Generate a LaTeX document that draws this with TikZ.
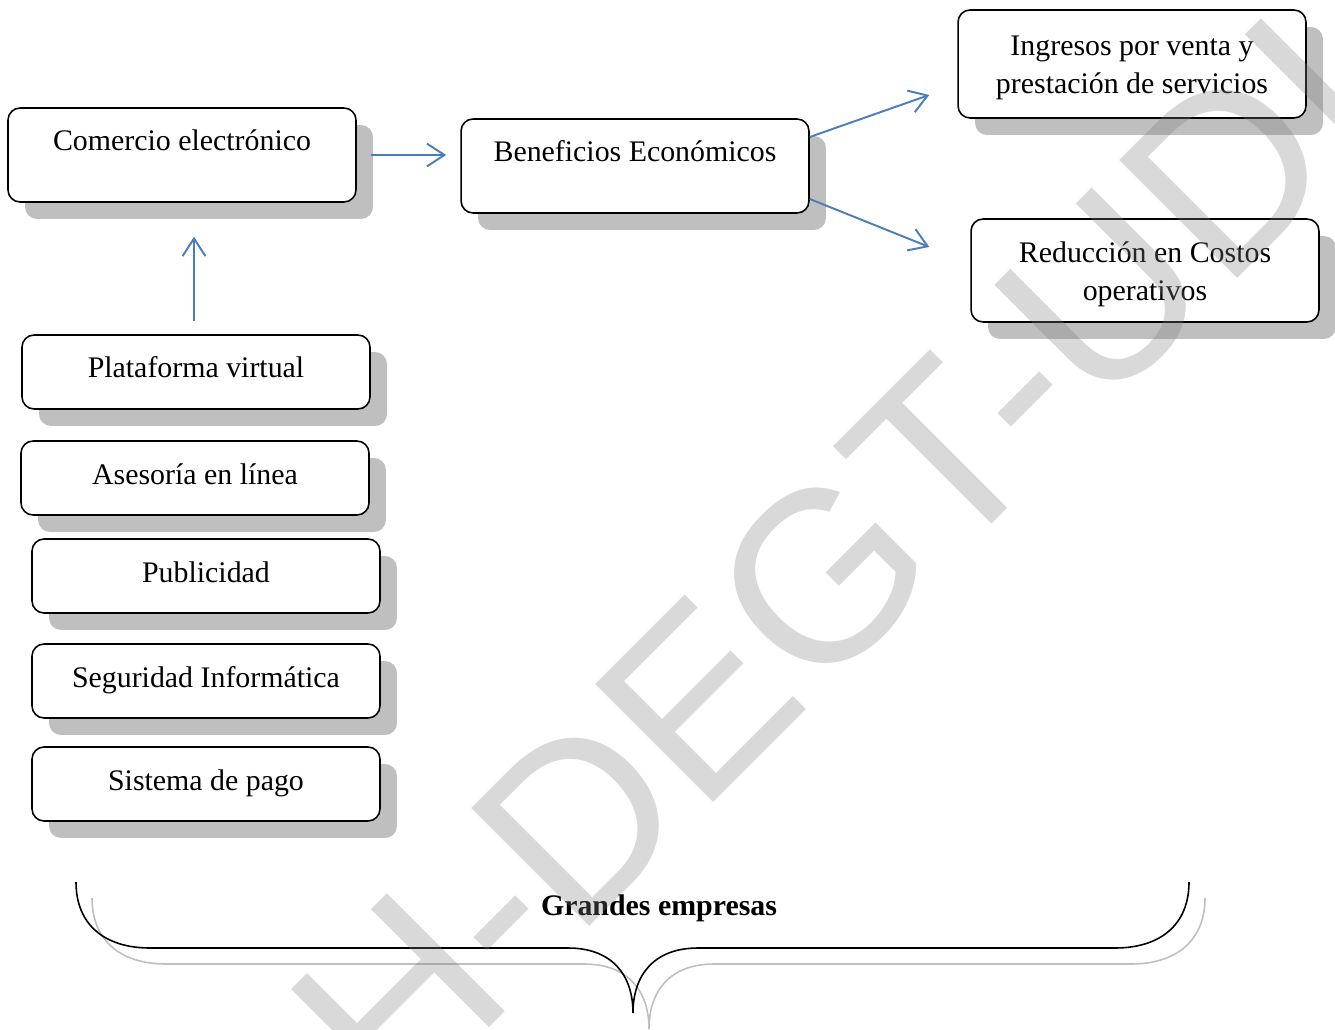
\documentclass[tikz,border=0pt]{standalone}
\usepackage{fontspec}
\setmainfont{Liberation Serif}
\newfontfamily\marcafont{Liberation Sans}
\usetikzlibrary{arrows.meta,shadows}
\definecolor{azulflecha}{HTML}{4A7EBB}
\tikzset{>={Straight Barb[length=10pt,width=13pt]}}
\tikzset{caja/.style={draw, line width=0.9pt, rounded corners=0.24cm, fill=white,
    minimum width=6.96cm, inner xsep=0pt, inner ysep=0pt,
    text height=0.86cm, text depth=0.62cm, align=center,
    font=\fontsize{17}{22}\selectfont,
    drop shadow={shadow xshift=0.34cm, shadow yshift=-0.34cm, fill=black!25, opacity=1}},
  flecha/.style={->, color=azulflecha, line width=1.1pt},
  llave/.style={line width=0.9pt}}

\begin{document}
\begin{tikzpicture}[x=0.02cm, y=-0.02cm]
    \useasboundingbox (0,0) rectangle (1335,1030);
    \node[caja, text depth=1.02cm] (com) at (182,155) {Comercio electrónico};
    \node[caja, text depth=1.02cm] (ben) at (635,166) {Beneficios Económicos};
    \node[caja, text height=1.68cm, text depth=0.48cm] (ing) at (1132,64) {Ingresos por venta y\\prestación de servicios};
    \node[caja, text height=1.64cm, text depth=0.42cm] (red) at (1145,270.5) {Reducción en Costos\\operativos};
    \node[caja] (plat) at (196,372) {Plataforma virtual};
    \node[caja] (ase) at (195,478) {Asesoría en línea};
    \node[caja] (pub) at (206,576) {Publicidad};
    \node[caja] (seg) at (206,681) {Seguridad Informática};
    \node[caja] (sis) at (206,784) {Sistema de pago};

    \draw[flecha] ([xshift=0.28cm]com.east) -- ([xshift=-0.28cm]com.east -| ben.west);
    \draw[flecha] ([xshift=-0.04cm, yshift=0.26cm]plat.north) -- ([xshift=-0.04cm, yshift=-0.68cm]plat.north |- com.south);
    \draw[flecha] ([yshift=0.58cm]ben.east) -- ([shift={(-0.56cm,-0.62cm)}]ing.west);
    \draw[flecha] ([yshift=-0.66cm]ben.east) -- ([shift={(-0.82cm,0.47cm)}]red.west);

    \draw[llave, black!25, shift={(16,16)}] (76,882) .. controls (76,925) and (105,948) .. (150,948) -- (568,948)
        .. controls (612,948) and (633,975) .. (633,1013) .. controls (633,975) and (654,948) .. (698,948)
        -- (1115,948) .. controls (1160,948) and (1189,925) .. (1189,882);
    \draw[llave] (76,882) .. controls (76,925) and (105,948) .. (150,948) -- (568,948)
        .. controls (612,948) and (633,975) .. (633,1013) .. controls (633,975) and (654,948) .. (698,948)
        -- (1115,948) .. controls (1160,948) and (1189,925) .. (1189,882);
    \node[font=\fontsize{17}{22}\selectfont\bfseries] (grandes) at (659,908) {Grandes empresas};

    \begin{scope}
    \clip (0,0) rectangle (1335,1030);
    \node[rotate=45, text=gray, text opacity=0.3, font=\fontsize{138}{138}\marcafont] (marca) at (836,562) {H-DEGT-UDI};
    \end{scope}
\end{tikzpicture}
\end{document}
